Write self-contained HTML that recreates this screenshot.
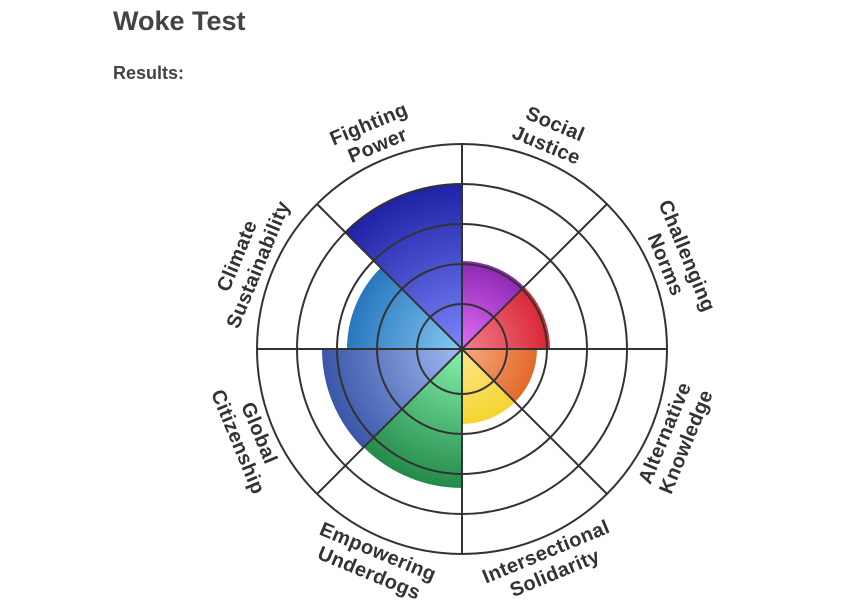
<!DOCTYPE html>
<html><head><meta charset="utf-8"><style>
html,body{margin:0;padding:0;background:#fff;width:854px;height:614px;overflow:hidden}
svg{display:block}
</style></head><body>
<svg width="854" height="614" viewBox="0 0 854 614" xmlns="http://www.w3.org/2000/svg" font-family="Liberation Sans, sans-serif">
<defs>
<radialGradient id="gFP" gradientUnits="userSpaceOnUse" cx="462" cy="349" r="165"><stop offset="0" stop-color="#7a86fa"/><stop offset="1" stop-color="#1e22a6"/></radialGradient>
<radialGradient id="gSJ" gradientUnits="userSpaceOnUse" cx="462" cy="349" r="88"><stop offset="0" stop-color="#e56cf5"/><stop offset="1" stop-color="#8c28b5"/></radialGradient>
<radialGradient id="gCN" gradientUnits="userSpaceOnUse" cx="462" cy="349" r="88"><stop offset="0" stop-color="#f5808c"/><stop offset="1" stop-color="#d82636"/></radialGradient>
<radialGradient id="gAK" gradientUnits="userSpaceOnUse" cx="462" cy="349" r="75"><stop offset="0" stop-color="#f8aa80"/><stop offset="1" stop-color="#e26a2a"/></radialGradient>
<radialGradient id="gIS" gradientUnits="userSpaceOnUse" cx="462" cy="349" r="75"><stop offset="0" stop-color="#fde68e"/><stop offset="1" stop-color="#f5d530"/></radialGradient>
<radialGradient id="gEU" gradientUnits="userSpaceOnUse" cx="462" cy="349" r="139"><stop offset="0" stop-color="#86f2ac"/><stop offset="1" stop-color="#248a4a"/></radialGradient>
<radialGradient id="gGC" gradientUnits="userSpaceOnUse" cx="462" cy="349" r="140"><stop offset="0" stop-color="#a2baf2"/><stop offset="1" stop-color="#3a56a8"/></radialGradient>
<radialGradient id="gCS" gradientUnits="userSpaceOnUse" cx="462" cy="349" r="115"><stop offset="0" stop-color="#86caf2"/><stop offset="1" stop-color="#2876be"/></radialGradient>
</defs>
<text x="113" y="30" font-size="27" font-weight="bold" fill="#444">Woke Test</text>
<text x="113" y="79" font-size="18" font-weight="bold" fill="#444">Results:</text>

<path d="M462 349 L345.3 232.3 A165 165 0 0 1 462 184 Z" fill="url(#gFP)"/>
<path d="M462 349 L462 261 A88 88 0 0 1 524.2 286.8 Z" fill="url(#gSJ)"/>
<path d="M462 349 L524.2 286.8 A88 88 0 0 1 550 349 Z" fill="url(#gCN)"/>
<path d="M462 349 L537 349 A75 75 0 0 1 515 402 Z" fill="url(#gAK)"/>
<path d="M462 349 L515 402 A75 75 0 0 1 462 424 Z" fill="url(#gIS)"/>
<path d="M462 349 L462 488 A139 139 0 0 1 363.7 447.3 Z" fill="url(#gEU)"/>
<path d="M462 349 L363 448 A140 140 0 0 1 322 349 Z" fill="url(#gGC)"/>
<path d="M462 349 L347 349 A115 115 0 0 1 380.7 267.7 Z" fill="url(#gCS)"/>

<g fill="none" stroke="#333" stroke-width="2">
<circle cx="462" cy="349" r="45"/>
<circle cx="462" cy="349" r="85"/>
<circle cx="462" cy="349" r="125"/>
<circle cx="462" cy="349" r="165"/>
<circle cx="462" cy="349" r="205"/>
<line x1="257" y1="349" x2="667" y2="349"/>
<line x1="462" y1="144" x2="462" y2="554"/>
<line x1="317" y1="204" x2="607" y2="494"/>
<line x1="607" y1="204" x2="317" y2="494"/>
</g>

<g font-size="20" font-weight="bold" fill="#333" text-anchor="middle" dominant-baseline="central" letter-spacing="0.4">
<text transform="translate(369,124.5) rotate(-22.5)">Fighting</text>
<text transform="translate(377.8,145.7) rotate(-22.5)">Power</text>
<text transform="translate(555,124.5) rotate(22.5)">Social</text>
<text transform="translate(546.2,145.7) rotate(22.5)">Justice</text>
<text transform="translate(686.5,256) rotate(67.5)">Challenging</text>
<text transform="translate(665.3,264.8) rotate(67.5)">Norms</text>
<text transform="translate(237.5,256) rotate(-67.5)">Climate</text>
<text transform="translate(258.7,264.8) rotate(-67.5)">Sustainability</text>
<text transform="translate(665.3,433.2) rotate(-67.5)">Alternative</text>
<text transform="translate(686.5,442) rotate(-67.5)">Knowledge</text>
<text transform="translate(546.2,552.3) rotate(-22.5)">Intersectional</text>
<text transform="translate(555,573.5) rotate(-22.5)">Solidarity</text>
<text transform="translate(377.8,552.3) rotate(22.5)">Empowering</text>
<text transform="translate(369,573.5) rotate(22.5)">Underdogs</text>
<text transform="translate(258.7,433.2) rotate(67.5)">Global</text>
<text transform="translate(237.5,442) rotate(67.5)">Citizenship</text>
</g>
</svg>
</body></html>
